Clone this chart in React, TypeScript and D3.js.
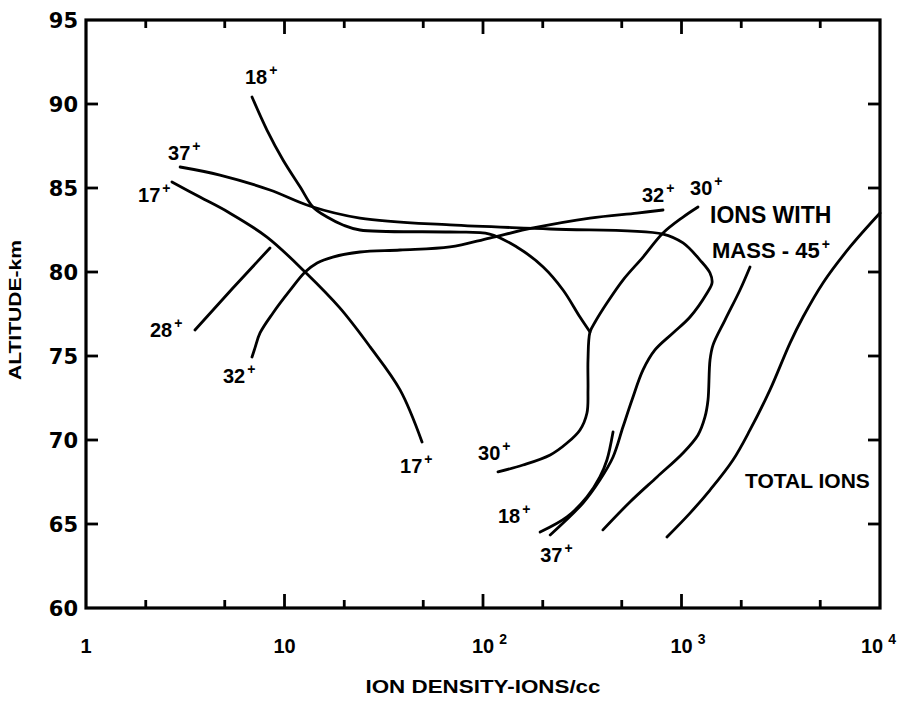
import React from "react";
import * as d3 from "d3";

// ---- data (density in ions/cc, altitude in km) ----
const ion17Density = [2.71, 3.75, 5.19, 8.16, 12.7, 19.0, 27.0, 38.2, 49.3];
const ion17Altitude = [85.36, 84.46, 83.57, 82.08, 80.0, 77.86, 75.54, 72.98, 69.88];

const ion37Density = [2.98, 4.73, 8.45, 13.4, 24.0, 68.2, 218, 807, 1018, 1240, 1392, 1425, 1345, 1104, 906, 735, 640, 563, 507, 452, 388, 319, 218];
const ion37Altitude = [86.25, 85.77, 84.88, 83.93, 83.21, 82.8, 82.56, 82.26, 81.73, 80.71, 79.94, 79.35, 78.75, 77.32, 76.37, 75.36, 74.17, 72.38, 70.77, 68.99, 67.62, 66.25, 64.35];

const ion18UpperDensity = [6.86, 8.16, 9.83, 12.0, 13.9, 16.4, 19.7, 24.0, 68.2, 108, 148, 201, 253, 308, 346];
const ion18UpperAltitude = [90.42, 88.45, 86.67, 85.06, 83.87, 83.27, 82.8, 82.5, 82.38, 82.26, 81.49, 80.3, 78.93, 77.32, 76.43];

const ion18LowerDensity = [194, 265, 334, 388, 421, 452];
const ion18LowerAltitude = [64.52, 65.42, 66.61, 67.8, 68.81, 70.48];

const ion30Density = [1211, 1018, 807, 640, 507, 421, 367, 346, 338, 338, 334, 308, 265, 218, 159, 119];
const ion30Altitude = [83.87, 83.27, 82.32, 80.89, 79.52, 78.15, 77.02, 76.43, 74.76, 72.98, 71.61, 70.6, 69.82, 69.11, 68.51, 68.1];

const ion32Density = [6.86, 7.1, 7.53, 8.75, 10.7, 12.7, 14.6, 17.5, 24.0, 38.2, 68.2, 108, 179, 346, 597, 807];
const ion32Altitude = [74.94, 75.48, 76.37, 77.56, 78.93, 80.0, 80.54, 80.89, 81.19, 81.31, 81.49, 82.02, 82.62, 83.21, 83.51, 83.69];

const ion28Density = [3.54, 5.44, 8.45];
const ion28Altitude = [76.55, 78.99, 81.43];

const mass45Density = [2214, 1971, 1656, 1441, 1392, 1360, 1313, 1211, 1018, 753, 550, 402];
const mass45Altitude = [80.3, 78.93, 77.14, 75.65, 74.76, 72.38, 71.37, 70.3, 69.23, 67.8, 66.31, 64.65];

const totalDensity = [10000, 7062, 5161, 4094, 3521, 2791, 2214, 1817, 1392, 1104, 845];
const totalAltitude = [83.51, 81.49, 79.35, 77.32, 75.77, 72.98, 70.6, 68.81, 67.02, 65.65, 64.23];

// labels (text, superscript, anchor density, anchor altitude)
const labelMain = ["18", "37", "17", "28", "32", "17", "32", "30", "IONS WITH", "MASS - 45", "30", "18", "37", "TOTAL IONS"];
const labelSup = ["+", "+", "+", "+", "+", "+", "+", "+", "", "+", "+", "+", "+", ""];
const labelDensity = [6.32, 2.59, 1.83, 2.1, 4.9, 38.2, 632, 1104, 1392, 1425, 94.4, 119, 194, 2089];
const labelAltitude = [91.19, 86.67, 84.17, 76.13, 73.39, 68.04, 84.17, 84.58, 82.92, 80.83, 68.81, 65.06, 62.74, 67.14];

const yTicks = [60, 65, 70, 75, 80, 85, 90, 95];
const xMajorTicks = [1, 10, 100, 1000, 10000];
const xMinorTicks = [2, 5, 20, 50, 200, 500, 2000, 5000];
const xTickBase = ["1", "10", "10", "10", "10"];
const xTickExp = ["", "", "2", "3", "4"];

const xTitle = "ION DENSITY-IONS/cc";
const yTitle = "ALTITUDE-km";

export default function App() {
  const x = d3.scaleLog().domain([1, 10000]).range([86, 880]);
  const y = d3.scaleLinear().domain([60, 95]).range([608, 20]);

  const line = d3
    .line<[number, number]>()
    .x((d) => x(d[0]))
    .y((d) => y(d[1]))
    .curve(d3.curveCatmullRom.alpha(0.5));
  const straight = d3
    .line<[number, number]>()
    .x((d) => x(d[0]))
    .y((d) => y(d[1]));

  const zip = (a: number[], b: number[]) => a.map((v, i) => [v, b[i]] as [number, number]);

  const series = [
    zip(ion17Density, ion17Altitude),
    zip(ion37Density, ion37Altitude),
    zip(ion18UpperDensity, ion18UpperAltitude),
    zip(ion18LowerDensity, ion18LowerAltitude),
    zip(ion30Density, ion30Altitude),
    zip(ion32Density, ion32Altitude),
    zip(mass45Density, mass45Altitude),
    zip(totalDensity, totalAltitude),
  ];

  const font = "'Liberation Sans', Arial, sans-serif";
  const [x0, x1] = x.range();
  const [yb, yt] = y.range();

  return (
    <svg
      width={899}
      height={702}
      style={{ position: "absolute", left: 0, top: 0, background: "#fff" }}
    >
      <rect x={0} y={0} width={899} height={702} fill="#fff" />
      {/* frame */}
      <rect x={x0} y={yt} width={x1 - x0} height={yb - yt} fill="none" stroke="#000" strokeWidth={3.2} />
      {/* y ticks */}
      {yTicks.map((t) => (
        <g key={"yt" + t}>
          {t > 60 && t < 95 && (
            <line x1={x0} x2={x0 + 12} y1={y(t)} y2={y(t)} stroke="#000" strokeWidth={2.8} />
          )}
          {t > 60 && t < 95 && (
            <line x1={x1} x2={x1 - 12} y1={y(t)} y2={y(t)} stroke="#000" strokeWidth={2.8} />
          )}
          <text
            x={x0 - 8}
            y={y(t) + 8}
            textAnchor="end"
            fontFamily="'DejaVu Sans', sans-serif"
            fontWeight="bold"
            fontSize={21}
            fill="#000"
          >
            {t}
          </text>
        </g>
      ))}
      {/* x ticks */}
      {xMajorTicks.slice(1, 4).map((t) => (
        <g key={"xm" + t}>
          <line x1={x(t)} x2={x(t)} y1={yb} y2={yb - 14} stroke="#000" strokeWidth={2.8} />
          <line x1={x(t)} x2={x(t)} y1={yt} y2={yt + 14} stroke="#000" strokeWidth={2.8} />
        </g>
      ))}
      {xMinorTicks.map((t) => (
        <g key={"xn" + t}>
          <line x1={x(t)} x2={x(t)} y1={yb} y2={yb - 8} stroke="#000" strokeWidth={2.8} />
          <line x1={x(t)} x2={x(t)} y1={yt} y2={yt + 8} stroke="#000" strokeWidth={2.8} />
        </g>
      ))}
      {xMajorTicks.map((t, i) => {
        const last = i === xMajorTicks.length - 1;
        const hasExp = xTickExp[i] !== "";
        return (
          <text
            key={"xl" + t}
            x={hasExp ? x(t) - 11 - (last ? 8 : 0) : x(t)}
            y={yb + 45}
            textAnchor={hasExp ? "start" : "middle"}
            fontFamily={font}
            fontWeight="bold"
            fontSize={20}
            fill="#000"
          >
            {xTickBase[i]}
            {hasExp && (
              <tspan dx={5} dy={-9} fontSize={14}>
                {xTickExp[i]}
              </tspan>
            )}
          </text>
        );
      })}
      {/* titles */}
      <text
        x={(x0 + x1) / 2}
        y={693}
        textAnchor="middle"
        fontFamily={font}
        fontWeight="bold"
        fontSize={18}
        textLength={235}
        lengthAdjust="spacingAndGlyphs"
        fill="#000"
      >
        {xTitle}
      </text>
      <text
        transform={`translate(21, ${310}) rotate(-90)`}
        textAnchor="middle"
        fontFamily={font}
        fontWeight="bold"
        fontSize={17}
        textLength={140}
        lengthAdjust="spacingAndGlyphs"
        fill="#000"
      >
        {yTitle}
      </text>
      {/* curves */}
      {series.map((s, i) => (
        <path key={"s" + i} d={line(s) || ""} fill="none" stroke="#000" strokeWidth={2.8} strokeLinecap="round" />
      ))}
      <path d={straight(zip(ion28Density, ion28Altitude)) || ""} fill="none" stroke="#000" strokeWidth={2.8} strokeLinecap="round" />
      {/* labels */}
      {labelMain.map((m, i) => {
        const long = m.length > 3;
        return (
          <text
            key={"lb" + i}
            x={x(labelDensity[i])}
            y={y(labelAltitude[i])}
            fontFamily={font}
            fontWeight="bold"
            fontSize={long ? (m === "IONS WITH" ? 23 : m === "TOTAL IONS" ? 21 : 22) : 20}
            fill="#000"
          >
            {m}
            {labelSup[i] && (
              <tspan dx={2} dy={-9} fontSize={14}>
                {labelSup[i]}
              </tspan>
            )}
          </text>
        );
      })}
    </svg>
  );
}
